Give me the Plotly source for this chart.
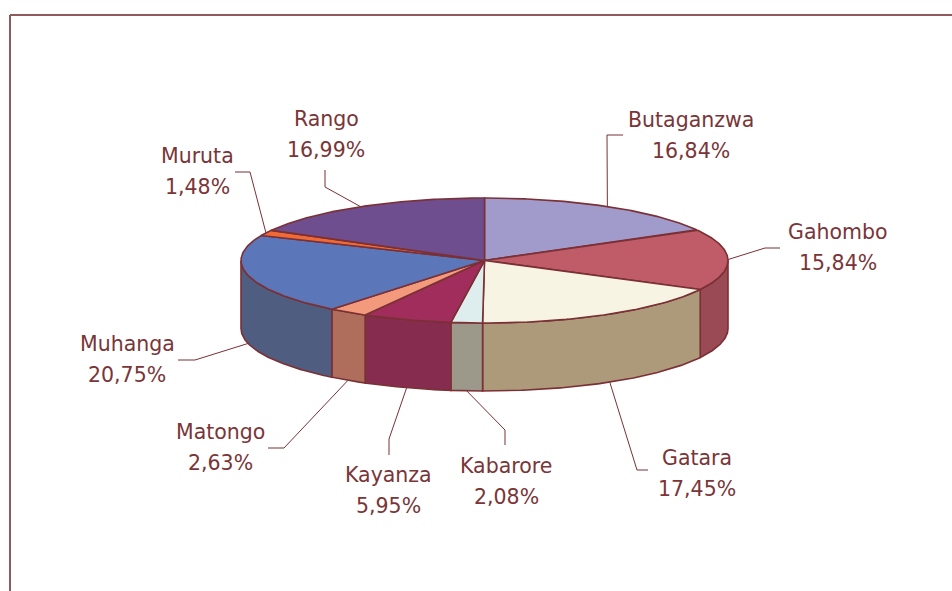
import numpy as np
import plotly.graph_objects as go

# ---- data ----
names = ["Butaganzwa", "Gahombo", "Gatara", "Kabarore", "Kayanza",
         "Matongo", "Muhanga", "Muruta", "Rango"]
shares = [16.84, 15.84, 17.45, 2.08, 5.95, 2.63, 20.75, 1.48, 16.99]

# ---- style ----
top_colors = ["#A09BCB", "#C05B68", "#F7F4E3", "#DEEEEE", "#A02D5C",
              "#F49A7C", "#5B77BA", "#F06A35", "#6E4E8E"]
side_colors = ["#7F7BA3", "#9A4A55", "#AD9A7B", "#9C988A", "#862C4F",
               "#AE6E5B", "#4F5E80", "#C0552A", "#583E72"]
edge_color = "#7B3035"
text_color = "#7A3538"
W, H = 952, 591
CX, CY, RX, RY, DEPTH = 484.5, 260.5, 243.5, 62.5, 68

# label text centres (name line) and leader elbow/end points
label_pos = [(691, 120), (838, 232), (697, 458), (506, 466), (388, 475),
             (220, 432), (127, 344), (197, 156), (326, 119)]
leader_pts = [[(607, 135), (623, 135)], [(765, 248), (780, 248)],
              [(637, 470), (648, 470)], [(505, 430), (505, 445)],
              [(389, 439), (389, 455)], [(284, 448), (268, 448)],
              [(195, 360), (178, 360)], [(250, 172), (235, 172)],
              [(325, 187), (325, 170)]]
LINE_GAP = 31


def pt(theta_deg, dy=0.0):
    t = np.radians(theta_deg)
    return CX + RX * np.sin(t), CY - RY * np.cos(t) + dy


def arc(a0, a1, dy=0.0):
    n = max(2, int(abs(a1 - a0) / 0.5) + 1)
    th = np.linspace(a0, a1, n)
    xs, ys = pt(th, dy)
    return list(xs), list(ys)


total = sum(shares)
bounds = np.concatenate([[0], np.cumsum(shares)]) / total * 360.0

fig = go.Figure()

# side faces (front half only)
for i in range(len(names)):
    a0, a1 = max(bounds[i], 90.0), min(bounds[i + 1], 270.0)
    if a1 <= a0:
        continue
    tx, ty = arc(a0, a1)
    bx, by = arc(a1, a0, DEPTH)
    xs = tx + bx + [tx[0]]
    ys = ty + by + [ty[0]]
    fig.add_trace(go.Scatter(x=xs, y=ys, mode="lines", fill="toself",
                             fillcolor=side_colors[i],
                             line=dict(color=edge_color, width=1.6),
                             hoverinfo="skip", showlegend=False))

# top faces
for i in range(len(names)):
    ax, ay = arc(bounds[i], bounds[i + 1])
    xs = [CX] + ax + [CX]
    ys = [CY] + ay + [CY]
    fig.add_trace(go.Scatter(x=xs, y=ys, mode="lines", fill="toself",
                             fillcolor=top_colors[i],
                             line=dict(color=edge_color, width=1.6),
                             hoverinfo="skip", showlegend=False,
                             name=names[i]))

# leader lines and labels
annotations = []
for i in range(len(names)):
    mid = (bounds[i] + bounds[i + 1]) / 2
    dy = DEPTH if 90 < mid < 270 else 0
    axp, ayp = pt(mid, dy)
    xs = [axp] + [p[0] for p in leader_pts[i]]
    ys = [ayp] + [p[1] for p in leader_pts[i]]
    fig.add_trace(go.Scatter(x=xs, y=ys, mode="lines",
                             line=dict(color=edge_color, width=1),
                             hoverinfo="skip", showlegend=False))
    lx, ly = label_pos[i]
    pct = f"{shares[i]:.2f}".replace(".", ",") + "%"
    for txt, yy in ((names[i], ly), (pct, ly + LINE_GAP)):
        annotations.append(dict(x=lx, y=yy, xref="x", yref="y", text=txt,
                                showarrow=False, xanchor="center",
                                yanchor="middle",
                                font=dict(family="DejaVu Sans", size=20.5,
                                          color=text_color)))

fig.update_layout(
    width=W, height=H, autosize=False,
    margin=dict(l=0, r=0, t=0, b=0),
    paper_bgcolor="white", plot_bgcolor="white",
    xaxis=dict(range=[0, W], visible=False, fixedrange=True),
    yaxis=dict(range=[H, 0], visible=False, fixedrange=True),
    annotations=annotations,
    shapes=[dict(type="line", xref="paper", yref="paper",
                 x0=10 / W, x1=1.0, y0=1 - 15 / H, y1=1 - 15 / H,
                 line=dict(color="#8E5A5E", width=2)),
            dict(type="line", xref="paper", yref="paper",
                 x0=10 / W, x1=10 / W, y0=1 - 15 / H, y1=0,
                 line=dict(color="#8E5A5E", width=2))],
)

fig.write_html("out.html",
               config={"displayModeBar": False, "staticPlot": True},
               post_script="document.body.style.margin='0';"
                           "document.body.style.overflow='hidden';")
